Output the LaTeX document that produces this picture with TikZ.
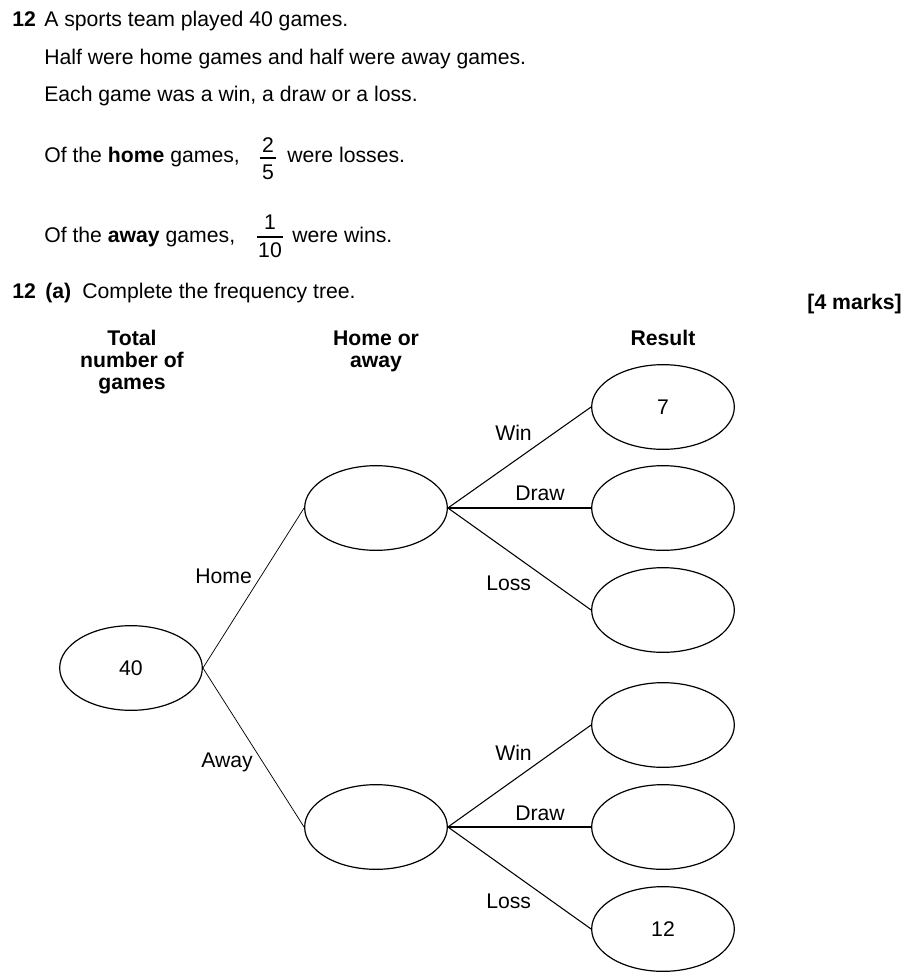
\documentclass[tikz,border=0pt]{standalone}
\usepackage{fontspec}
\setmainfont{Liberation Sans}
\usetikzlibrary{shapes.geometric}
\begin{document}
\begin{tikzpicture}[x=0.75pt,y=-0.75pt,
  every node/.style={font=\fontsize{15.9}{16.5}\selectfont, inner sep=0pt},
  txt/.style={anchor=base west},
  hdr/.style={anchor=base, align=center, font=\fontsize{15.9}{16.5}\selectfont\bfseries},
  freq/.style={draw, ellipse, line width=0.9pt, minimum width=107pt, minimum height=63.5pt},
  lbl/.style={anchor=base west},
  thinline/.style={line width=0.55pt},
  branch/.style={line width=0.8pt}]
\useasboundingbox (0,0) rectangle (913,980);
% question text
\node[txt] (qn) at (12,27) {\bfseries 12};
\node[txt] (l1) at (44,27) {A sports team played 40 games.};
\node[txt] (l2) at (44,65) {Half were home games and half were away games.};
\node[txt] (l3) at (44,102) {Each game was a win, a draw or a loss.};
\node[txt] (l4) at (44,163) {Of the \textbf{home} games,};
\node[anchor=base] (f1n) at (268,153) {2};
\node[anchor=base] (f1d) at (268,180) {5};
\draw[line width=0.8pt] (260,158) -- (276,158);
\node[txt] (l4b) at (287,163) {were losses.};
\node[txt] (l5) at (44,243) {Of the \textbf{away} games,};
\node[anchor=base] (f2n) at (270,230) {1};
\node[anchor=base] (f2d) at (270,258) {10};
\draw[line width=0.8pt] (257,237) -- (283,237);
\node[txt] (l5b) at (292,243) {were wins.};
\node[txt] (qa) at (12,298) {\bfseries 12\hspace{0.45em}(a)};
\node[txt] (qat) at (82,298) {Complete the frequency tree.};
\node[anchor=base east] (marks) at (902,310) {\bfseries [4 marks]};
% headers (base anchor = last line)
\node[hdr] (h1) at (132,389) {Total\\number of\\games};
\node[hdr] (h2) at (376,367) {Home or\\away};
\node[hdr] (h3) at (663,345) {Result};
% tree
\node[freq] (tot) at (131,668) {40};
\node[freq] (home) at (376,508) {};
\node[freq] (away) at (376,827) {};
\node[freq] (hw) at (663,407) {7};
\node[freq] (hd) at (663,508) {};
\node[freq] (hl) at (663,610) {};
\node[freq] (aw) at (663,725) {};
\node[freq] (ad) at (663,827) {};
\node[freq] (al) at (663,929) {12};
\draw[thinline] (tot.east) -- (home.west);
\draw[thinline] (tot.east) -- (away.west);
\draw[branch] (home.east) -- (hw.west);
\draw[branch] (home.east) -- (hd.west);
\draw[branch] (home.east) -- (hl.west);
\draw[branch] (away.east) -- (aw.west);
\draw[branch] (away.east) -- (ad.west);
\draw[branch] (away.east) -- (al.west);
% branch labels
\node[lbl] (lhome) at (195,583) {Home};
\node[lbl] (laway) at (201,767) {Away};
\node[lbl] (lhw) at (495,440) {Win};
\node[lbl] (lhd) at (515,500) {Draw};
\node[lbl] (lhl) at (486,590) {Loss};
\node[lbl] (law) at (495,760) {Win};
\node[lbl] (lad) at (515,820) {Draw};
\node[lbl] (lal) at (486,908) {Loss};
\end{tikzpicture}
\end{document}
